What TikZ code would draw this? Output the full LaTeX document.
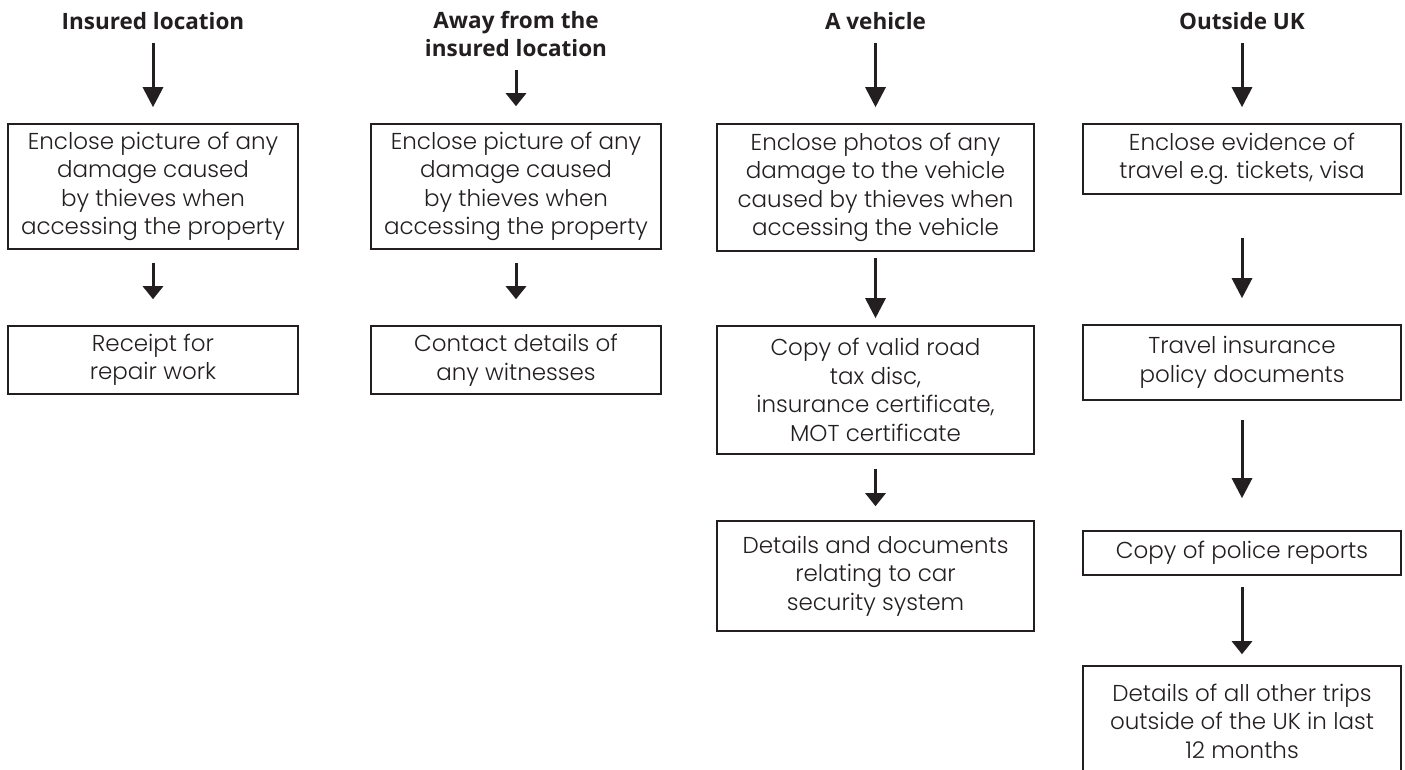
\documentclass[tikz,border=0pt]{standalone}
\usepackage{fontspec}
\IfFontExistsTF{Poppins Light}{\setmainfont{Poppins Light}}{\setmainfont{Poppins}}
\newfontfamily\headfont{Open Sans}
\usetikzlibrary{arrows.meta}
\definecolor{ink}{RGB}{35,31,32}
\begin{document}
\begin{tikzpicture}[x=1pt,y=-1pt,
  box/.style={draw=ink, line width=1.6pt, inner sep=0pt, align=center, text=ink,
    font=\fontsize{23}{28.5}\selectfont},
  head/.style={anchor=south, inner sep=0pt, align=center, text=ink,
    font=\headfont\bfseries\fontsize{22.5}{28}\selectfont},
  bigarr/.style={draw=ink, line width=3pt, -{Triangle[width=20pt,length=20pt]}},
  smallarr/.style={draw=ink, line width=3pt, -{Triangle[width=20pt,length=13pt]}}]
\useasboundingbox (0,0) rectangle (1405,769);
\clip (0,0) rectangle (1405,769);
\fill[white] (0,0) rectangle (1405,769);

% column 1
\node[head] (h1) at (153,30) {Insured location};
\node[box, minimum width=290pt, minimum height=125pt] (a1) at (153,186.5)
  {Enclose picture of any\\damage caused\\by thieves when\\accessing the property};
\node[box, minimum width=290pt, minimum height=68pt] (a2) at (153,360)
  {Receipt for\\repair work};
\draw[bigarr, shorten <=13pt, shorten >=16pt] (h1) -- (a1);
\draw[smallarr, shorten <=13pt, shorten >=26pt] (a1) -- (a2);

% column 2
\node[head] (h2) at (516,57) {Away from the\\insured location};
\node[box, minimum width=290pt, minimum height=125pt] (b1) at (516,186.5)
  {Enclose picture of any\\damage caused\\by thieves when\\accessing the property};
\node[box, minimum width=290pt, minimum height=68pt] (b2) at (516,360)
  {Contact details of\\any witnesses};
\draw[smallarr, shorten <=13pt, shorten >=17pt] (h2) -- (b1);
\draw[smallarr, shorten <=13pt, shorten >=26pt] (b1) -- (b2);

% column 3
\node[head] (h3) at (875.5,30) {A vehicle};
\node[box, minimum width=317pt, minimum height=127pt] (c1) at (875.5,187.5)
  {Enclose photos of any\\damage to the vehicle\\caused by thieves when\\accessing the vehicle};
\node[box, minimum width=317pt, minimum height=128pt] (c2) at (875.5,390)
  {Copy of valid road\\tax disc,\\insurance certificate,\\MOT certificate};
\node[box, minimum width=317pt, minimum height=110pt] (c3) at (875.5,576)
  {Details and documents\\relating to car\\security system};
\draw[bigarr, shorten <=13pt, shorten >=16pt] (h3) -- (c1);
\draw[bigarr, shorten <=6pt, shorten >=7pt] (c1) -- (c2);
\draw[smallarr, shorten <=14pt, shorten >=14pt] (c2) -- (c3);

% column 4
\node[head] (h4) at (1242,30) {Outside UK};
\node[box, minimum width=318pt, minimum height=70pt] (d1) at (1242,159)
  {Enclose evidence of\\travel e.g. tickets, visa};
\node[box, minimum width=318pt, minimum height=75pt] (d2) at (1242,362.5)
  {Travel insurance\\policy documents};
\node[box, minimum width=318pt, minimum height=44pt] (d3) at (1242,553)
  {Copy of police reports};
\node[box, minimum width=318pt, minimum height=110pt] (d4) at (1242,721)
  {Details of all other trips\\outside of the UK in last\\12 months};
\draw[bigarr, shorten <=13pt, shorten >=16pt] (h4) -- (d1);
\draw[bigarr, shorten <=43pt, shorten >=26pt] (d1) -- (d2);
\draw[bigarr, shorten <=19pt, shorten >=32pt] (d2) -- (d3);
\draw[smallarr, shorten <=11pt, shorten >=11pt] (d3) -- (d4);
\end{tikzpicture}
\end{document}
